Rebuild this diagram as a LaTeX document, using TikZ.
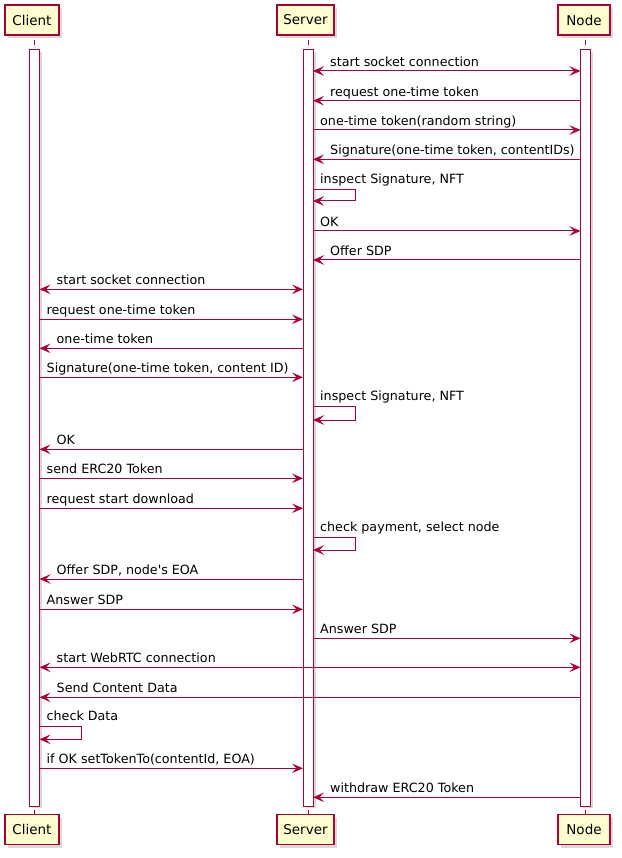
\documentclass[tikz,border=0pt]{standalone}
\usepackage{fontspec}
\setmainfont{DejaVu Sans}
\usetikzlibrary{arrows.meta,shadows}
\definecolor{pumlred}{HTML}{A80036}
\definecolor{pumlbox}{HTML}{FEFECE}
\newcommand\msgR[5]{\coordinate (#1a) at (#3,#2); \coordinate (#1b) at (#4,#2);
  \draw[msg] (#1a) -- (#1b);
  \node[lbl] (#1t) at ([shift={(7pt,4.5pt)}]#1a) {#5};}
\newcommand\msgL[5]{\coordinate (#1a) at (#3,#2); \coordinate (#1b) at (#4,#2);
  \draw[msg] (#1b) -- (#1a);
  \node[lbl] (#1t) at ([shift={(17pt,4.5pt)}]#1a) {#5};}
\newcommand\msgB[5]{\coordinate (#1a) at (#3,#2); \coordinate (#1b) at (#4,#2);
  \draw[msg,<->] (#1a) -- (#1b);
  \node[lbl] (#1t) at ([shift={(17pt,4.5pt)}]#1a) {#5};}
\newcommand\msgS[5]{\coordinate (#1a) at (#4,#2); \coordinate (#1b) at (#4,#3);
  \coordinate (#1c) at ([xshift=42pt]#1a);
  \draw[msg] (#1a) -- (#1c) |- (#1b);
  \node[lbl] (#1t) at ([shift={(7pt,6.5pt)}]#1a) {#5};}
\begin{document}
\begin{tikzpicture}[x=1pt,y=-1pt,
  >={Stealth[length=11pt,width=9.5pt,inset=4.5pt]},
  part/.style={draw=pumlred,line width=1.4pt,fill=pumlbox,minimum height=30pt,
    inner sep=0pt,font=\fontsize{13.5}{15}\selectfont,
    drop shadow={shadow xshift=3pt,shadow yshift=-3pt,opacity=0.3}},
  actbar/.style={draw=pumlred,line width=1pt,fill=white,minimum width=10pt,
    inner sep=0pt,drop shadow={shadow xshift=2.5pt,shadow yshift=-2pt,opacity=0.3}},
  life/.style={draw=pumlred,line width=1pt,dash pattern=on 5pt off 5pt,dash phase=5pt},
  msg/.style={draw=pumlred,line width=1pt,->},
  lbl/.style={anchor=base west,inner sep=0pt,font=\fontsize{12.7}{15}\selectfont}]
\useasboundingbox (0,0) rectangle (621,858);
% lifelines
\coordinate (lc1) at (34.5,35); \coordinate (lc2) at (34.5,814);
\coordinate (ls1) at (308,35);  \coordinate (ls2) at (308,814);
\coordinate (ln1) at (585.5,35); \coordinate (ln2) at (585.5,814);
\draw[life] (lc1) -- (lc2);
\draw[life] (ls1) -- (ls2);
\draw[life] (ln1) -- (ln2);
% participants
\node[part,minimum width=54pt] (ct) at (32,20) {Client};
\node[part,minimum width=57pt] (st) at (305.5,20) {Server};
\node[part,minimum width=52pt] (nt) at (584,20) {Node};
\node[part,minimum width=54pt] (cb) at (32,829.5) {Client};
\node[part,minimum width=57pt] (sb) at (305.5,829.5) {Server};
\node[part,minimum width=52pt] (nb) at (584,829.5) {Node};
% activation bars
\node[actbar,minimum height=756pt] (cbar) at (34.5,428) {};
\node[actbar,minimum height=756pt] (sbar) at (308,428) {};
\node[actbar,minimum height=756pt] (nbar) at (585.5,428) {};
% messages
\msgB{m1}{71}{313}{580.5}{start socket connection}
\msgL{m2}{100.7}{313}{580.5}{request one-time token}
\msgR{m3}{130}{313}{580.5}{one-time token(random string)}
\msgL{m4}{159.3}{313}{580.5}{Signature(one-time token, contentIDs)}
\msgS{m5}{190}{201}{313}{inspect Signature, NFT}
\msgR{m6}{231}{313}{580.5}{OK}
\msgL{m7}{260}{313}{580.5}{Offer SDP}
\msgB{m8}{289.3}{39.5}{303}{start socket connection}
\msgR{m9}{319.3}{39.5}{303}{request one-time token}
\msgL{m10}{348.3}{39.5}{303}{one-time token}
\msgR{m11}{377.3}{39.5}{303}{Signature(one-time token, content ID)}
\msgS{m12}{406.7}{420}{313}{inspect Signature, NFT}
\msgL{m13}{449.3}{39.5}{303}{OK}
\msgR{m14}{478.3}{39.5}{303}{send ERC20 Token}
\msgR{m15}{508.3}{39.5}{303}{request start download}
\msgS{m16}{537.7}{550}{313}{check payment, select node}
\msgL{m17}{579}{39.5}{303}{Offer SDP, node\textquotesingle s EOA}
\msgR{m18}{609.3}{39.5}{303}{Answer SDP}
\msgR{m19}{638.3}{313}{580.5}{Answer SDP}
\msgB{m20}{667.3}{39.5}{580.5}{start WebRTC connection}
\msgL{m21}{697.3}{39.5}{580.5}{Send Content Data}
\msgS{m22}{726.7}{739.3}{39.5}{check Data}
\msgR{m23}{768.3}{39.5}{303}{if OK setTokenTo(contentId, EOA)}
\msgL{m24}{797.3}{313}{580.5}{withdraw ERC20 Token}
\end{tikzpicture}
\end{document}
